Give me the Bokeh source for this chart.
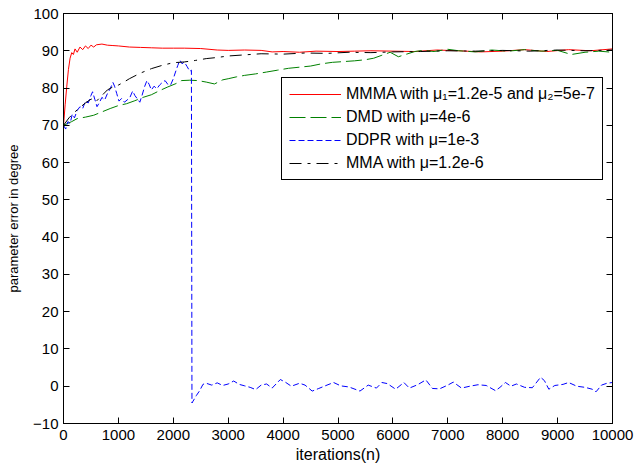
from bokeh.plotting import figure
from bokeh.models import LinearAxis, Legend, LegendItem, Range1d, FixedTicker
from bokeh.embed import file_html
from bokeh.resources import INLINE

# ---------------- data ----------------
x_ticks = [0, 1000, 2000, 3000, 4000, 5000, 6000, 7000, 8000, 9000, 10000]
y_ticks = [-10, 0, 10, 20, 30, 40, 50, 60, 70, 80, 90, 100]

labels = ["MMMA with μ₁=1.2e-5 and μ₂=5e-7",
          "DMD with μ=4e-6",
          "DDPR with μ=1e-3",
          "MMA with μ=1.2e-6"]

it_mmma = [0, 30, 60, 90, 120, 150, 180, 210, 250, 300, 350, 400, 450, 500, 550,
           600, 700, 800, 900, 1000, 1200, 1400, 1600, 1800, 2000, 2200, 2500,
           2800, 3000, 3300, 3600, 3800, 4000, 4300, 4600, 5000, 5300, 5600,
           6000, 6400, 6800, 7200, 7600, 8000, 8400, 8800, 9200, 9600, 10000]
val_mmma = [70, 75.5, 80.5, 85, 88, 89.5, 89, 90.5, 89.6, 91, 90.3, 91.3, 90.6, 91.5, 91.0,
            91.6, 91.8, 91.5, 91.4, 91.3, 91.0, 90.9, 90.8, 90.7, 90.7, 90.7, 90.6,
            90.2, 90.1, 90.2, 90.1, 89.7, 89.8, 89.6, 89.9, 89.8, 89.9, 90.0,
            89.9, 89.8, 90.2, 90.0, 89.7, 89.9, 90.3, 89.8, 90.3, 90.0, 90.5]

it_dmd = [0, 150, 250, 400, 550, 700, 850, 1000, 1150, 1300, 1450, 1600, 1750, 1900,
          2050, 2150, 2300, 2450, 2600, 2750, 2900, 3000, 3150, 3300, 3500, 3700,
          3900, 4100, 4300, 4500, 4700, 4900, 5100, 5300, 5500, 5650, 5800, 5950,
          6100, 6250, 6400, 6550, 6750, 7000, 7200, 7500, 7800, 8100, 8400, 8700,
          9000, 9250, 9500, 9750, 10000]
val_dmd = [70, 71, 71.8, 72.2, 72.7, 73.6, 74.5, 75.3, 75.8, 76.6, 77.5, 78.2, 79.3, 80.3,
           81.2, 82.0, 82.1, 82.0, 81.6, 81.1, 82.2, 82.5, 83.0, 83.4, 83.8, 84.3,
           84.8, 85.3, 85.6, 85.9, 86.5, 86.9, 87.1, 87.3, 87.6, 88.0, 88.8, 89.6,
           88.4, 89.1, 89.8, 90.1, 89.8, 90.4, 90.0, 89.7, 90.2, 89.9, 90.3, 89.9,
           90.1, 89.0, 89.6, 89.9, 89.6]

it_ddpr = [0, 40, 80, 120, 160, 200, 250, 300, 350, 400, 450, 500, 530, 570, 610,
           650, 700, 750, 800, 850, 900, 930, 970, 1010, 1060, 1110, 1160, 1210,
           1260, 1300, 1350, 1390, 1430, 1480, 1520, 1560, 1600, 1650, 1700, 1750,
           1800, 1850, 1900, 1950, 2000, 2040, 2080, 2120, 2160, 2200, 2250, 2300,
           2330, 2340, 2360, 2420, 2480, 2540, 2600, 2700, 2800, 2900, 3000, 3100,
           3200, 3300, 3400, 3500, 3600, 3700, 3800, 3950, 4050, 4150, 4300, 4400,
           4530, 4650, 4800, 4920, 5050, 5200, 5400, 5550, 5700, 5800, 5900, 6050,
           6200, 6300, 6450, 6600, 6720, 6850, 7000, 7100, 7250, 7400, 7550, 7700,
           7870, 7950, 8050, 8150, 8250, 8400, 8540, 8690, 8760, 8840, 8950, 9100,
           9200, 9350, 9500, 9630, 9700, 9800, 9900, 10000]
val_ddpr = [70, 69, 71, 70.5, 73, 72, 74, 75, 74.5, 76.5, 76, 78, 79, 77, 75,
            76, 77.5, 76.8, 78.5, 79.8, 81.5, 80.5, 78.5, 76.5, 77.2, 76.2, 76.8, 77.5,
            79.2, 78, 77, 76.2, 78, 80.5, 82, 81, 79.5, 80.5, 79.8, 80.8,
            81.5, 82, 81, 80.8, 82.5, 84.3, 86, 87.5, 86.5, 87, 85.8, 84.5,
            84.8, -4.5, -4.0, -2.5, -1.2, 0.5, 0.8, 0.3, 0.9, 0.2, 0.6, 1.4,
            0.5, 0.1, -0.3, -0.9, 0.3, 0.6, -0.5, 1.8, 1.0, 0.0, 0.8, 0.3,
            -1.3, -0.6, 0.3, 1.0, 0.1, -0.2, -1.3, 0.3, -0.5, 1.0, 0.7, -0.8,
            1.0, -0.5, 0.4, 1.7, -0.6, -0.7, 0.3, 1.1, -0.5, 0.0, 0.4, 0.2,
            -1.2, -0.3, 1.0, 0.0, 0.6, -0.3, -0.4, 2.4, 1.5, -0.8, 0.2, 0.5,
            1.0, 0.0, -0.3, -0.8, -1.5, 0.3, 0.8, 1.0]

it_mma = [0, 100, 200, 300, 400, 500, 550, 600, 700, 800, 900, 1000, 1100, 1200,
          1400, 1600, 1800, 2000, 2200, 2400, 2600, 2800, 3000, 3300, 3600, 4000,
          4400, 4800, 5200, 5600, 6000, 6500, 7000, 7500, 8000, 8500, 9000, 9500, 10000]
val_mma = [70, 72, 73.5, 74.8, 76, 77, 77.2, 76.5, 78, 79.5, 80.3, 80.8, 81.6, 82.5,
           84.0, 85.2, 86.1, 86.8, 87.0, 87.4, 87.9, 88.2, 88.6, 88.9, 89.2, 89.1,
           89.4, 89.3, 89.6, 89.5, 89.7, 89.8, 90.0, 89.9, 90.1, 89.9, 90.2, 90.0, 90.2]

colors = ["#ff0000", "#008000", "#0000ff", "#000000"]
dashes = ["solid", "16 5", "6 3", "12 6 3 6"]

# ---------------- figure ----------------
FONT = "Liberation Sans"

p = figure(width=634, height=468, output_backend="svg", toolbar_location=None,
           x_range=Range1d(0, 10000), y_range=Range1d(-10, 100),
           min_border_left=63, min_border_right=22, min_border_top=13,
           min_border_bottom=45)
p.xgrid.visible = False
p.ygrid.visible = False
p.outline_line_color = "black"
p.outline_line_alpha = 1.0
p.outline_line_width = 1
p.background_fill_color = "white"
p.border_fill_color = "white"

series = [(it_mmma, val_mmma), (it_dmd, val_dmd), (it_ddpr, val_ddpr), (it_mma, val_mma)]
renderers = []
for (xs, ys), c, d in zip(series, colors, dashes):
    renderers.append(p.line(xs, ys, line_color=c, line_width=1, line_dash=d))


def style_axis(ax, ticks, show_labels):
    ax.ticker = FixedTicker(ticks=ticks)
    ax.major_tick_in = 6
    ax.major_tick_out = 0
    ax.minor_tick_in = 0
    ax.minor_tick_out = 0
    ax.axis_line_color = "black"
    ax.major_tick_line_color = "black"
    if show_labels:
        ax.major_label_text_font = FONT
        ax.major_label_text_font_size = "15px"
        ax.major_label_text_color = "black"
        ax.axis_label_text_font = FONT
        ax.axis_label_text_font_style = "normal"
        ax.axis_label_text_color = "black"
    else:
        ax.major_label_text_font_size = "0px"
        ax.major_label_standoff = 0


style_axis(p.xaxis[0], x_ticks, True)
style_axis(p.yaxis[0], y_ticks, True)
p.xaxis[0].axis_label = "iterations(n)"
p.xaxis[0].axis_label_text_font_size = "16px"
p.xaxis[0].major_label_standoff = 6
p.xaxis[0].axis_label_standoff = 3
p.yaxis[0].axis_label = "parameter error in degree"
p.yaxis[0].axis_label_text_font_size = "13px"
p.yaxis[0].major_label_standoff = 5
p.yaxis[0].axis_label_standoff = 9

top_ax = LinearAxis()
right_ax = LinearAxis()
style_axis(top_ax, x_ticks, False)
style_axis(right_ax, y_ticks, False)
p.add_layout(top_ax, "above")
p.add_layout(right_ax, "right")

legend = Legend(items=[LegendItem(label=lab, renderers=[r]) for lab, r in zip(labels, renderers)],
                location=(218, 243))
legend.border_line_color = "black"
legend.border_line_width = 1
legend.border_line_alpha = 1.0
legend.background_fill_color = "white"
legend.background_fill_alpha = 1.0
legend.label_text_font = FONT
legend.label_text_font_size = "16px"
legend.label_text_color = "black"
legend.glyph_width = 52
legend.glyph_height = 18
legend.label_height = 18
legend.spacing = 5
legend.padding = 7
legend.margin = 0
legend.label_standoff = 5
p.add_layout(legend, "center")

open("out.html", "w").write(file_html(p, INLINE))
